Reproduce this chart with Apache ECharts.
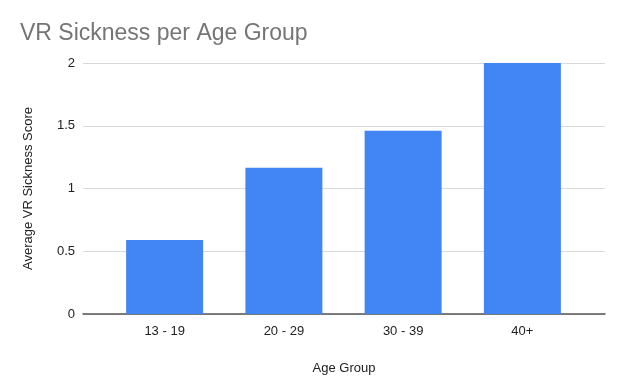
<!DOCTYPE html>
<html><head><meta charset="utf-8">
<script src="https://cdn.jsdelivr.net/npm/echarts@6/dist/echarts.min.js"></script>
<style>html,body{margin:0;padding:0;background:#fff}#c{width:623px;height:389px}</style>
</head><body><div id="c"></div>
<script>
var categories = ['13 - 19', '20 - 29', '30 - 39', '40+'];
var scores = [0.59, 1.165, 1.46, 2.0];
var yTicks = [0, 0.5, 1, 1.5, 2];

var chart = echarts.init(document.getElementById('c'));
var font = 'Arial, "Liberation Sans", sans-serif';
chart.setOption({
  animation: false,
  title: {text: 'VR Sickness per Age Group', left: 15, top: 17,
    textStyle: {fontFamily: font, fontSize: 23, fontWeight: 'normal', color: '#757575'}},
  grid: [
    {left: 83, right: 18, top: 63, bottom: 75},
    {left: 105, right: 41, top: 63, bottom: 75}
  ],
  xAxis: [
    {gridIndex: 0, type: 'value', min: 0, max: 1, show: true,
      axisLine: {show: true, onZero: false, lineStyle: {color: '#555', width: 1.5}},
      axisTick: {show: false}, axisLabel: {show: false}, splitLine: {show: false},
      name: 'Age Group', nameLocation: 'middle', nameGap: 48,
      nameTextStyle: {fontFamily: font, fontSize: 13, color: '#222'}},
    {gridIndex: 1, type: 'category', data: categories,
      axisLine: {show: false}, axisTick: {show: false},
      axisLabel: {fontFamily: font, fontSize: 13, color: '#222', margin: 11}}
  ],
  yAxis: [
    {gridIndex: 0, type: 'value', min: yTicks[0], max: yTicks[yTicks.length-1], interval: 0.5,
      axisLine: {show: false}, axisTick: {show: false},
      axisLabel: {fontFamily: font, fontSize: 13, color: '#222', margin: 8},
      splitLine: {lineStyle: {color: '#d9d9d9'}},
      name: 'Average VR Sickness Score', nameLocation: 'middle', nameGap: 48,
      nameTextStyle: {fontFamily: font, fontSize: 13, color: '#222'}},
    {gridIndex: 1, type: 'value', min: yTicks[0], max: yTicks[yTicks.length-1], interval: 0.5, show: false}
  ],
  series: [{
    type: 'bar', xAxisIndex: 1, yAxisIndex: 1, data: scores, barWidth: 77,
    itemStyle: {color: '#4285F4'}, z: 1
  }]
});
</script></body></html>
